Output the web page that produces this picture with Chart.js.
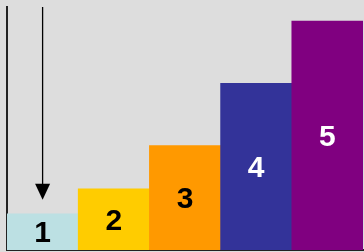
<!DOCTYPE html>
<html>
<head>
<meta charset="utf-8">
<script src="https://cdn.jsdelivr.net/npm/chart.js@4"></script>
<style>
  body { margin: 0; background: #dddddd; }
  canvas { display: block; }
</style>
</head>
<body>
<canvas id="steps" width="364" height="252"></canvas>
<script>
const labels = ['1', '2', '3', '4', '5'];
const heights = [36, 61, 104, 166, 228];
const barColors = ['#bce0e3', '#ffcc00', '#ff9900', '#333399', '#800080'];
const textColors = ['#000000', '#000000', '#000000', '#ffffff', '#ffffff'];
const yMax = 242;
// arrow over the first bar: from value -> to value
const arrowFrom = 242;
const arrowTo = 50;

const barLabels = {
    id: 'barLabels',
    afterDatasetsDraw(chart) {
        const ctx = chart.ctx;
        const meta = chart.getDatasetMeta(0);
        ctx.save();
        ctx.font = 'bold 30px "Liberation Sans", Arial, sans-serif';
        ctx.textAlign = 'center';
        ctx.textBaseline = 'middle';
        meta.data.forEach((bar, i) => {
            ctx.fillStyle = textColors[i];
            ctx.fillText(labels[i], bar.x, (bar.y + bar.base) / 2 + 2);
        });
        ctx.restore();
    }
};

const arrow = {
    id: 'arrow',
    afterDatasetsDraw(chart) {
        const ctx = chart.ctx;
        const x = chart.scales.x.getPixelForValue(0);
        const y0 = chart.scales.y.getPixelForValue(arrowFrom);
        const y1 = chart.scales.y.getPixelForValue(arrowTo);
        ctx.save();
        ctx.strokeStyle = '#000';
        ctx.fillStyle = '#000';
        ctx.lineWidth = 1.3;
        ctx.beginPath();
        ctx.moveTo(x, y0);
        ctx.lineTo(x, y1 - 14);
        ctx.stroke();
        ctx.beginPath();
        ctx.moveTo(x - 7.5, y1 - 16);
        ctx.lineTo(x + 7.5, y1 - 16);
        ctx.lineTo(x, y1);
        ctx.closePath();
        ctx.fill();
        ctx.restore();
    }
};

new Chart(document.getElementById('steps'), {
    type: 'bar',
    data: {
        labels: labels,
        datasets: [{
            data: heights,
            backgroundColor: barColors,
            borderWidth: 0,
            barPercentage: 1,
            categoryPercentage: 1
        }]
    },
    options: {
        responsive: false,
        animation: false,
        layout: { padding: { left: 7, top: 7, right: 1, bottom: 2 } },
        plugins: { legend: { display: false }, tooltip: { enabled: false } },
        scales: {
            x: {
                ticks: { display: false },
                grid: { display: false, drawTicks: false },
                border: { display: true, color: '#222', width: 2 }
            },
            y: {
                min: 0,
                max: yMax,
                ticks: { display: false },
                grid: { display: false, drawTicks: false },
                border: { display: true, color: '#222', width: 2 }
            }
        }
    },
    plugins: [barLabels, arrow]
});
</script>
</body>
</html>
